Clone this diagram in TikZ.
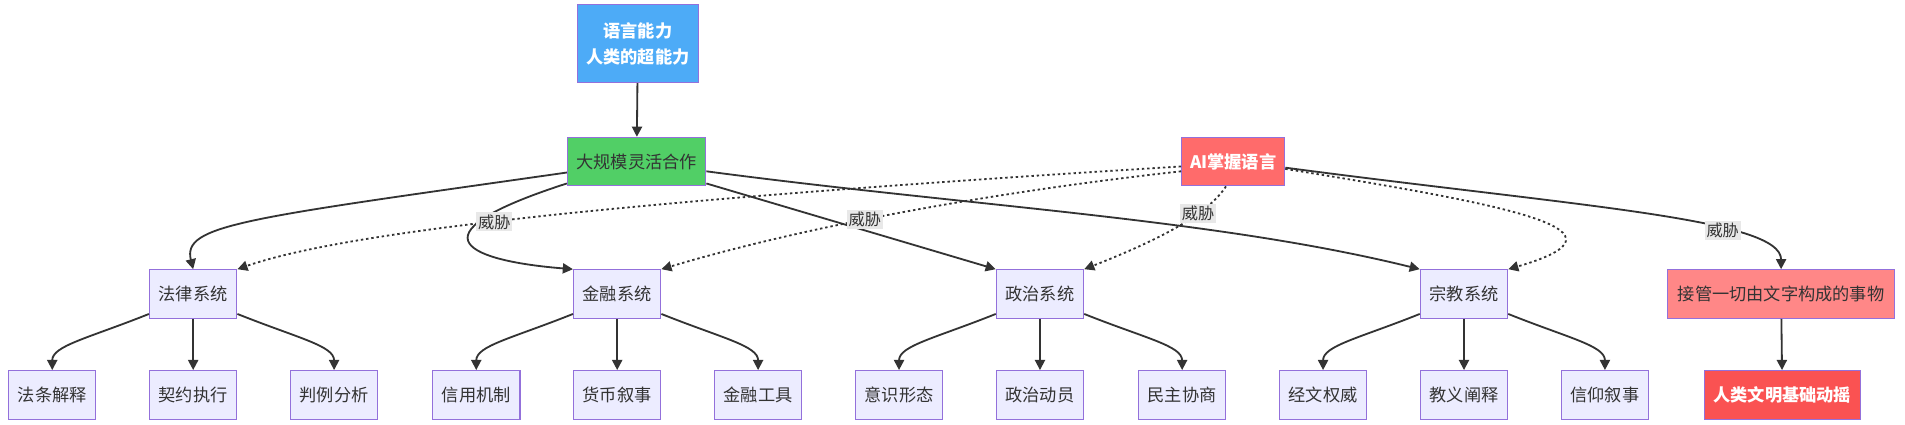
\documentclass[tikz,border=0pt]{standalone}
\usepackage{fontspec}
\setmainfont{Liberation Sans}
\newfontfamily\cjk{Noto Sans CJK SC}
\usetikzlibrary{arrows.meta}
\definecolor{bxf}{HTML}{ECECFF}
\definecolor{bxd}{HTML}{9370DB}
\definecolor{ln}{HTML}{333333}
\begin{document}
\begin{tikzpicture}[x=0.6pt,y=-0.6pt,
 box/.style={draw=bxd,fill=bxf,line width=0.5pt,minimum height=24pt,inner sep=0pt,font=\cjk\fontsize{8.5}{11}\selectfont,text=ln,align=center},
 e/.style={ln,line width=0.9pt,-{Triangle[length=5pt,width=5pt]}},
 d/.style={e,dash pattern=on 1.2pt off 1.4pt},
 lb/.style={fill=black!9,inner sep=1pt,font=\cjk\fontsize{8}{10}\selectfont,text=ln}]
\useasboundingbox (0,0) rectangle (1568,349);
\node[box,fill=cyan!55!blue!55,fill={rgb,255:red,77;green,171;blue,247},text=white,font=\cjk\bfseries\fontsize{8.5}{13}\selectfont,minimum width=60pt,minimum height=38.4pt] (top) at (525,36) {语言能力\\人类的超能力};
\node[box,fill={rgb,255:red,81;green,207;blue,102},minimum width=68.4pt] (coop) at (524,133) {大规模灵活合作};
\node[box,fill={rgb,255:red,255;green,107;blue,107},text=white,font=\cjk\bfseries\fontsize{8.5}{11}\selectfont,minimum width=51pt] (ai) at (1015,133) {AI掌握语言};
\foreach \n/\x/\t in {law/159/法律系统,fin/508/金融系统,pol/856/政治系统,rel/1205/宗教系统}
  \node[box,minimum width=43.2pt] (\n) at (\x,242) {\t};
\node[box,fill={rgb,255:red,255;green,135;blue,135},minimum width=112.2pt] (take) at (1466,242) {接管一切由文字构成的事物};
\foreach \n/\x/\t in {l1/43/法条解释,l2/159/契约执行,l3/275/判例分析,f1/392/信用机制,f2/508/货币叙事,f3/624/金融工具,p1/740/意识形态,p2/856/政治动员,p3/973/民主协商,r1/1089/经文权威,r2/1205/教义阐释,r3/1321/信仰叙事}
  \node[box,minimum width=43.2pt] (\n) at (\x,325) {\t};
\node[box,fill={rgb,255:red,250;green,82;blue,82},text=white,font=\cjk\bfseries\fontsize{8.5}{11}\selectfont,minimum width=76.8pt] (civ) at (1467,325) {人类文明基础动摇};
\draw[e] (top) -- (coop);
\draw[e] (coop.west |- 0,142) .. controls (200,180) and (150,185) .. (law.north);
\draw[e] (coop.west |- 0,151) .. controls (330,195) and (390,215) .. (fin.north west);
\draw[e] (coop.east |- 0,151) -- (pol.north west);
\draw[e] (coop.east |- 0,141) .. controls (800,170) and (1000,180) .. (rel.north west);
\draw[d] (ai.west |- 0,137) .. controls (600,160) and (300,185) .. node[lb,pos=0.6]{威胁} (law.north east);
\draw[d] (ai.west |- 0,141) .. controls (800,160) and (650,190) .. node[lb,pos=0.55]{威胁} (fin.north east);
\draw[d] (ai.south west) ++(37,0) .. controls (995,175) and (960,195) .. node[lb,pos=0.35]{威胁} (pol.north east);
\draw[d] (ai.east |- 0,139) .. controls (1250,170) and (1350,190) .. (rel.north east);
\draw[e] (ai.east |- 0,138) .. controls (1300,170) and (1466,180) .. node[lb,pos=0.68]{威胁} (take.north);
\draw[e] (take) -- (civ);
\foreach \p/\a/\b/\c in {law/l1/l2/l3,fin/f1/f2/f3,pol/p1/p2/p3,rel/r1/r2/r3}{
  \draw[e] (\p.south west) ++(0,-4) .. controls ++(-50,20) and ++(0,-20) .. (\a.north);
  \draw[e] (\p) -- (\b);
  \draw[e] (\p.south east) ++(0,-4) .. controls ++(50,20) and ++(0,-20) .. (\c.north);
}
\end{tikzpicture}
\end{document}
